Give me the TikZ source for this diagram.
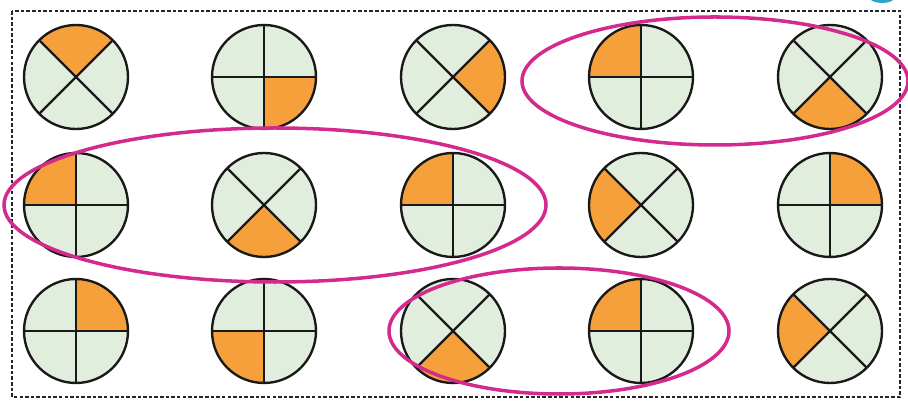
\documentclass[tikz,border=0pt]{standalone}
\usepackage{xcolor}
\usepackage{tikz}
\definecolor{pielight}{HTML}{E2EEDD}
\definecolor{pieorange}{HTML}{F5A03A}
\definecolor{loopmag}{HTML}{D42A8E}
\definecolor{cornerblue}{HTML}{2BA3C6}
\tikzset{
  piece/.style={fill=pielight},
  part/.style={fill=pieorange},
  ring/.style={draw=black!90, line width=1.35pt},
  loop/.style={draw=loopmag, line width=2pt},
  frame/.style={draw=black!85, line width=1.3pt, dash pattern=on 2pt off 1.2pt}
}

\begin{document}
\begin{tikzpicture}[x=0.02cm, y=0.02cm]
    \useasboundingbox (0,0) rectangle (908,401);
    \fill[cornerblue] (882,404) ellipse [x radius=13, y radius=6];
    \draw[frame] (12,390) rectangle (900,4);
    % x/y/rotation of the dividers/start angle of the orange quarter
    \foreach \cx/\cy/\rot/\ang in {
        76/324/45/45, 264/324/0/270, 453/324/45/-45, 641/324/0/90, 830/324/45/225,
        76/196/0/90, 264/196/45/225, 453/196/0/90, 641/196/45/135, 830/196/0/0,
        76/70/0/0, 264/70/0/180, 453/70/45/225, 641/70/0/90, 830/70/45/135} {
      \begin{scope}[shift={(\cx,\cy)}]
        \fill[piece] (0,0) circle[radius=52];
        \fill[part] (0,0) -- (\ang:52) arc[start angle=\ang, end angle=\ang+90, radius=52] -- cycle;
        \draw[ring, rotate=\rot] (-52,0) -- (52,0) (0,-52) -- (0,52);
        \draw[ring] (0,0) circle[radius=52];
      \end{scope}
    }
    \draw[loop] (715,320) ellipse [x radius=193, y radius=64];
    \draw[loop] (275,196) ellipse [x radius=271, y radius=77];
    \draw[loop] (559,70) ellipse [x radius=170, y radius=63];
\end{tikzpicture}
\end{document}
